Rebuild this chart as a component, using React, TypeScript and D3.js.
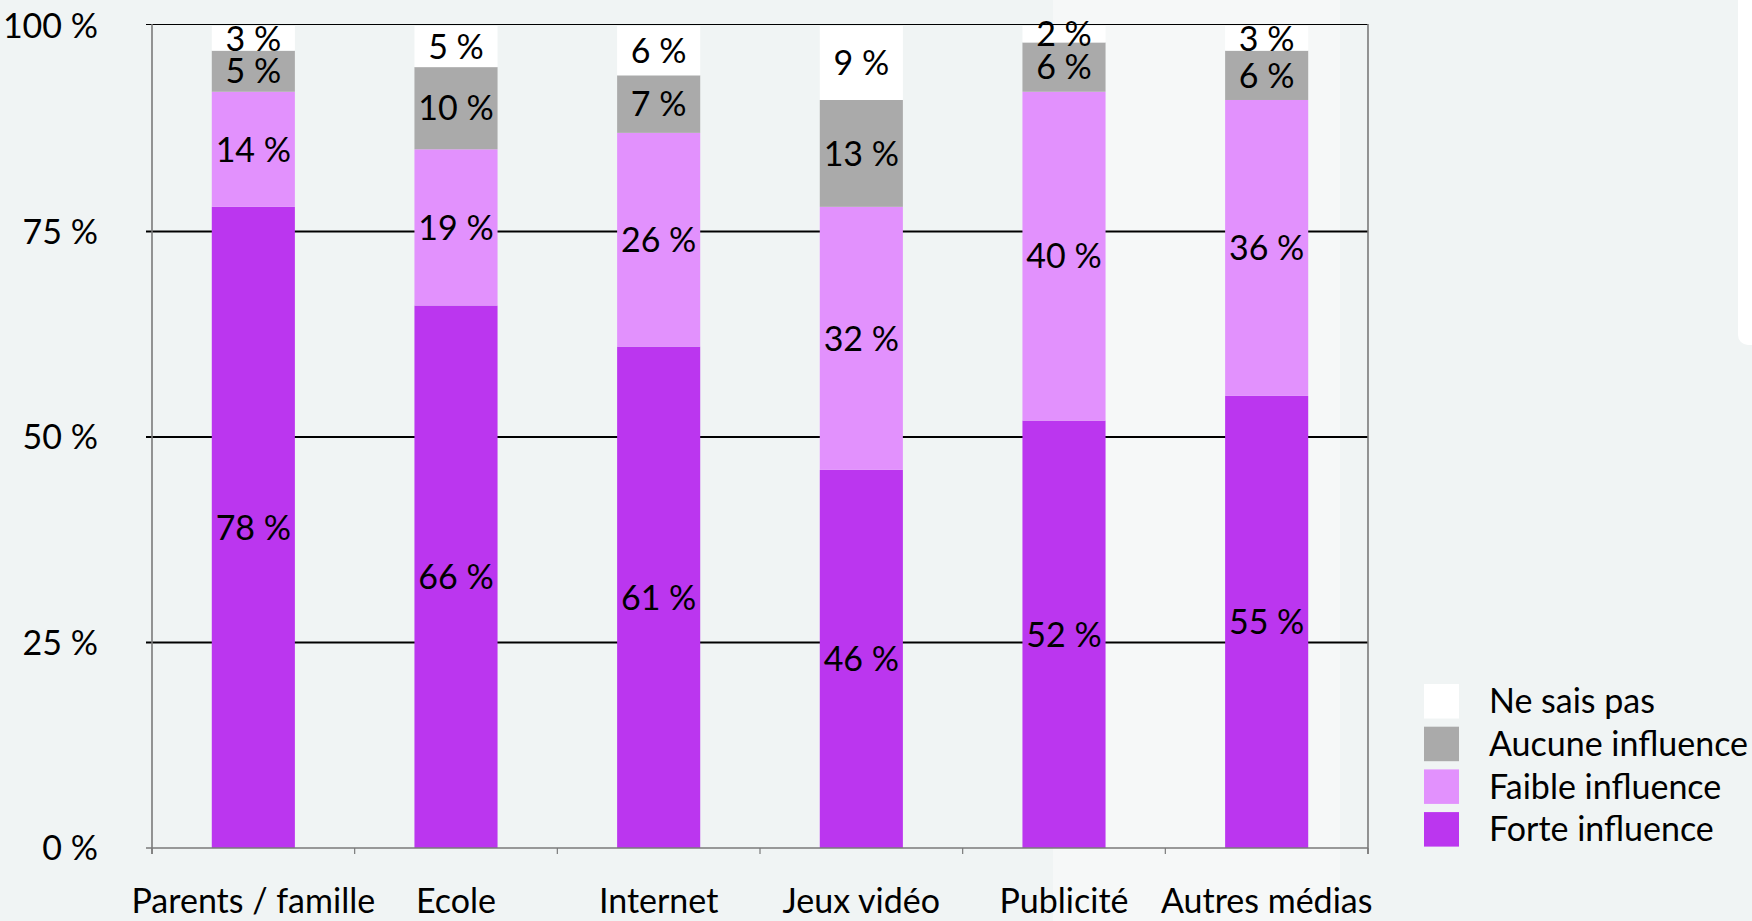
import React from "react";
import * as d3 from "d3";

const categories = ["Parents / famille", "Ecole", "Internet", "Jeux vidéo", "Publicité", "Autres médias"];
const forteInfluence = [78, 66, 61, 46, 52, 55];
const faibleInfluence = [14, 19, 26, 32, 40, 36];
const aucuneInfluence = [5, 10, 7, 13, 6, 6];
const neSaisPas = [3, 5, 6, 9, 2, 3];
const seriesNames = ["Forte influence", "Faible influence", "Aucune influence", "Ne sais pas"];
const seriesColors = ["#bb36ef", "#e291fd", "#aaaaaa", "#ffffff"];
const yTicks = [0, 25, 50, 75, 100];

const W = 1752;
const H = 921;
const FONT = "Lato, 'Open Sans', sans-serif";
const FS = 34;

export default function App() {
  const rows = categories.map((c, i) => ({
    cat: c,
    "Forte influence": forteInfluence[i],
    "Faible influence": faibleInfluence[i],
    "Aucune influence": aucuneInfluence[i],
    "Ne sais pas": neSaisPas[i],
  }));
  const stack = d3.stack<any>().keys(seriesNames);
  const layers = stack(rows);

  const x = d3.scaleBand<string>().domain(categories).range([152, 1368]).paddingInner(0.59).paddingOuter(0.295);
  const y = d3.scaleLinear().domain([0, 100]).range([848, 26]);
  const step = x.step();
  const left = 152;
  const right = 1368;
  const bottom = y(0);
  const top = y(100);
  const boundaries = d3.range(categories.length + 1).map((i) => left + i * step);

  const legendOrder = [3, 2, 1, 0];

  return (
    <svg
      width={W}
      height={H}
      style={{ position: "absolute", left: 0, top: 0, display: "block" }}
      fontFamily={FONT}
    >
      <rect x={0} y={0} width={W} height={H} fill="#f0f4f4" />
      <rect x={1053} y={0} width={287} height={H} fill="#f6f8f8" />
      <rect x={1738} y={-10} width={30} height={355} rx={10} fill="#ffffff" />

      {/* gridlines */}
      {yTicks.filter((t) => t > 0 && t < 100).map((t) => (
        <line key={t} x1={left - 6} x2={right} y1={y(t)} y2={y(t)} stroke="#000" strokeWidth={2.2} />
      ))}
      <line x1={left - 6} x2={right} y1={top - 1.5} y2={top - 1.5} stroke="#000" strokeWidth={1.2} />

      {/* bars */}
      {layers.map((layer, li) => (
        <g key={layer.key} fill={seriesColors[li]}>
          {layer.map((d, i) => (
            <rect
              key={i}
              x={x(categories[i])}
              width={x.bandwidth()}
              y={y(d[1])}
              height={y(d[0]) - y(d[1])}
            />
          ))}
        </g>
      ))}

      {/* axes */}
      <line x1={left} x2={left} y1={top - 2} y2={bottom + 6} stroke="#7a7a7a" strokeWidth={1.6} />
      <line x1={right} x2={right} y1={top - 2} y2={bottom + 6} stroke="#7a7a7a" strokeWidth={1.6} />
      <line x1={left - 6} x2={right} y1={bottom} y2={bottom} stroke="#7a7a7a" strokeWidth={1.6} />
      {boundaries.map((bx, i) => (
        <line key={i} x1={bx} x2={bx} y1={bottom} y2={bottom + 6} stroke="#7a7a7a" strokeWidth={1.2} />
      ))}

      {/* segment labels */}
      {layers.map((layer, li) => (
        <g key={"l" + layer.key}>
          {layer.map((d, i) => (
            <text
              key={i}
              x={(x(categories[i]) as number) + x.bandwidth() / 2}
              y={(y(d[0]) + y(d[1])) / 2}
              dy="0.36em"
              textAnchor="middle"
              fontSize={FS}
              fill="#000"
            >
              {`${d[1] - d[0]} %`}
            </text>
          ))}
        </g>
      ))}

      {/* y tick labels */}
      {yTicks.map((t) => (
        <text key={t} x={98} y={y(t)} dy="0.36em" textAnchor="end" fontSize={FS} fill="#000">
          {`${t} %`}
        </text>
      ))}

      {/* category labels */}
      {categories.map((c) => (
        <text
          key={c}
          x={(x(c) as number) + x.bandwidth() / 2}
          y={913}
          textAnchor="middle"
          fontSize={FS}
          fill="#000"
        >
          {c}
        </text>
      ))}

      {/* legend */}
      {legendOrder.map((si, k) => (
        <g key={si} transform={`translate(1424, ${684 + k * 42.7})`}>
          <rect x={0} y={0} width={35} height={34.5} fill={seriesColors[si]} />
          <text x={65} y={17} dy="0.36em" fontSize={FS} fill="#000">
            {seriesNames[si]}
          </text>
        </g>
      ))}
    </svg>
  );
}
